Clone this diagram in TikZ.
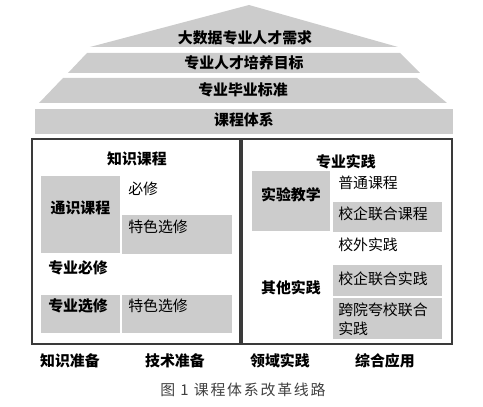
\documentclass[tikz,border=0pt]{standalone}
\usepackage{fontspec}
\setmainfont{Noto Sans CJK SC}
\usetikzlibrary{fit}
\definecolor{bandgray}{HTML}{CCCCCC}
\definecolor{framegray}{HTML}{3A3A3A}

\begin{document}
\begin{tikzpicture}[
    x=0.025cm, y=-0.025cm,
    every node/.style={font=\fontsize{10.6}{13.5}\selectfont},
    band/.style={fill=bandgray},
    frame/.style={draw=framegray, line width=0.9pt},
    cell/.style={rectangle, fill=bandgray, inner sep=0pt},
    head/.style={font=\fontsize{10.6}{13.5}\selectfont\bfseries},
    item/.style={anchor=west, inner sep=0pt}
]
\useasboundingbox (0,0) rectangle (483,407);
% pyramid
\fill[band] (249,5) -- (398,47) -- (90,47) -- cycle;
\fill[band] (87,53) -- (400,53) -- (420,73) -- (68,73) -- cycle;
\fill[band] (63,78) -- (417,78) -- (447,103) -- (39,103) -- cycle;
\fill[band] (35,109) rectangle (453,134);
\node[head] (need) at (245,38) {大数据专业人才需求};
\node[head] (goal) at (244,63) {专业人才培养目标};
\node[head] (std) at (243,90) {专业毕业标准};
\node[head] (sys) at (244,120) {课程体系};
% knowledge courses
\node[head] (know) at (137,159) {知识课程};
\node[cell, head, fit={(41,176)(120,253)}] (general) {通识课程};
\node[item] (req) at (128,189) {必修};
\node[cell, fit={(122,215)(232,254)}] (elec1) {};
\node[item] at (128,227) {特色选修};
\node[item, head] (majreq) at (48,268) {专业必修};
\node[cell, fit={(41,295)(120,333)}] (majel) {};
\node[item, head] at (48,306) {专业选修};
\node[cell, fit={(122,295)(232,333)}] (elec2) {};
\node[item] at (128,306) {特色选修};
% practice
\node[head] (prac) at (346,162) {专业实践};
\node[cell, head, fit={(252,171)(330,231)}] (lab) {实验教学};
\node[item] (plain) at (338,183) {普通课程};
\node[cell, fit={(333,202)(442,232)}] (jointc) {};
\node[item] at (338,214) {校企联合课程};
\node[item] (outside) at (338,245) {校外实践};
\node[cell, fit={(333,265)(442,296)}] (jointp) {};
\node[item] at (338,279) {校企联合实践};
\node[cell, fit={(333,298)(442,339)}] (cross) {};
\node[item, align=left] at (338,319.5) {跨院夸校联合\\实践};
\node[head] (other) at (291,288) {其他实践};
\draw[frame] (32,139) rectangle (240,344);
\draw[frame] (242,139) rectangle (452,344);
% stages
\node[head] (s1) at (70,361) {知识准备};
\node[head] (s2) at (175,361) {技术准备};
\node[head] (s3) at (280,361) {领域实践};
\node[head] (s4) at (385,361) {综合应用};
\node[text=black!75] (cap) at (243,390) {\addfontfeature{LetterSpace=12}图 1 课程体系改革线路};
\end{tikzpicture}
\end{document}
